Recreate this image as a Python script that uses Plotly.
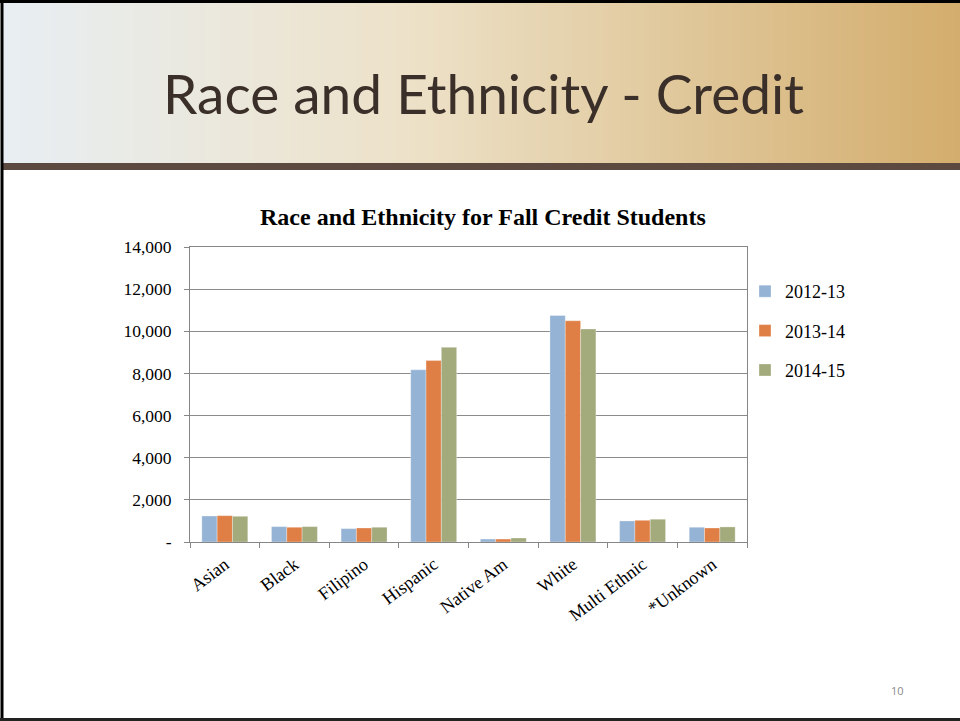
import plotly.graph_objects as go

categories = ["Asian", "Black", "Filipino", "Hispanic", "Native Am", "White", "Multi Ethnic", "*Unknown"]
series_names = ["2012-13", "2013-14", "2014-15"]
values_2012 = [1235, 730, 635, 8170, 140, 10750, 1000, 700]
values_2013 = [1250, 700, 665, 8610, 140, 10500, 1030, 665]
values_2014 = [1220, 730, 700, 9240, 190, 10110, 1080, 715]
series_values = [values_2012, values_2013, values_2014]
series_colors = ["#95B3D4", "#DF7F46", "#A3AA7C"]
y_tick_vals = [0, 2000, 4000, 6000, 8000, 10000, 12000, 14000]
y_tick_text = ["-", "2,000", "4,000", "6,000", "8,000", "10,000", "12,000", "14,000"]

W, H = 960, 721
SERIF = "Liberation Serif, Times New Roman, serif"

def px(x):
    return x / W

def py(y):
    return 1 - y / H

fig = go.Figure()
for i, (name, vals) in enumerate(zip(series_names, series_values)):
    fig.add_trace(go.Bar(
        x=categories, y=vals, name=name,
        marker=dict(color=series_colors[i], line=dict(color="rgba(255,255,255,0.6)", width=0.5)),
        legendgroup=name,
    ))

# header gradient strips
stops = [(0.0, (232, 238, 243)), (0.42, (237, 226, 201)), (1.0, (211, 173, 108))]

def interp(t):
    for (t0, c0), (t1, c1) in zip(stops[:-1], stops[1:]):
        if t0 <= t <= t1:
            f = (t - t0) / (t1 - t0)
            return tuple(int(round(a + (b - a) * f)) for a, b in zip(c0, c1))
    return stops[-1][1]

shapes = []
n = 160
x0p, x1p = 3, 960
for k in range(n):
    a = x0p + (x1p - x0p) * k / n
    b = x0p + (x1p - x0p) * (k + 1) / n + 0.8
    c = interp((k + 0.5) / n)
    shapes.append(dict(type="rect", xref="paper", yref="paper", layer="below",
                       x0=px(a), x1=px(min(b, 960)), y0=py(163), y1=py(3),
                       line=dict(width=0), fillcolor="rgb(%d,%d,%d)" % c))
# brown band
shapes.append(dict(type="rect", xref="paper", yref="paper", layer="below",
                   x0=px(3), x1=1, y0=py(170), y1=py(163),
                   line=dict(width=0), fillcolor="#5C4A40"))
# slide border
shapes.append(dict(type="line", xref="paper", yref="paper", x0=px(2), x1=px(2), y0=0, y1=1,
                   line=dict(color="black", width=3)))
shapes.append(dict(type="line", xref="paper", yref="paper", x0=0, x1=1, y0=py(1.5), y1=py(1.5),
                   line=dict(color="black", width=3)))
shapes.append(dict(type="line", xref="paper", yref="paper", x0=0, x1=1, y0=py(719.5), y1=py(719.5),
                   line=dict(color="#222", width=3)))

annotations = [
    dict(text="Race and Ethnicity - Credit", xref="paper", yref="paper", x=px(483), y=py(93),
         xanchor="center", yanchor="middle", showarrow=False,
         font=dict(family="Lato, Open Sans, sans-serif", size=55, color="#3B2F2A")),
    dict(text="<b>Race and Ethnicity for Fall Credit Students</b>", xref="paper", yref="paper",
         x=px(483), y=py(217), xanchor="center", yanchor="middle", showarrow=False,
         font=dict(family=SERIF, size=24, color="black")),
    dict(text="10", xref="paper", yref="paper", x=px(897), y=py(690), xanchor="center",
         yanchor="middle", showarrow=False,
         font=dict(family="Open Sans, sans-serif", size=11, color="#8a8a8a")),
]

fig.update_layout(
    template="none",
    width=W, height=H,
    margin=dict(l=0, r=0, t=0, b=0),
    paper_bgcolor="white", plot_bgcolor="rgba(0,0,0,0)",
    barmode="group", bargap=0.34, bargroupgap=0.0,
    shapes=shapes, annotations=annotations,
    font=dict(family=SERIF, size=18, color="black"),
    legend=dict(x=px(745), y=py(273), xanchor="left", yanchor="top",
                font=dict(family=SERIF, size=18, color="black"),
                traceorder="grouped", tracegroupgap=13, itemwidth=30,
                bgcolor="rgba(0,0,0,0)"),
    xaxis=dict(domain=[px(190), px(747)], showline=True, linecolor="#868686", linewidth=1,
               mirror=True, ticks="outside", tickson="boundaries", ticklen=5,
               tickcolor="#868686", tickangle=-37, showgrid=False, automargin=False,
               ticklabelstandoff=4,
               tickfont=dict(family=SERIF, size=18)),
    yaxis=dict(domain=[1 - 542 / H, 1 - 247 / H], range=[0, 14000], tickvals=y_tick_vals,
               ticktext=y_tick_text, showline=True, linecolor="#868686", linewidth=1,
               mirror=True, ticks="outside", ticklen=5, tickcolor="#868686",
               ticklabelstandoff=9,
               showgrid=True, gridcolor="#8C8C8C", gridwidth=1, zeroline=False,
               automargin=False, tickfont=dict(family=SERIF, size=17.5)),
)

fig.write_html("out.html", config={"displayModeBar": False},
               post_script="document.body.style.margin='0';document.body.style.overflow='hidden';")
